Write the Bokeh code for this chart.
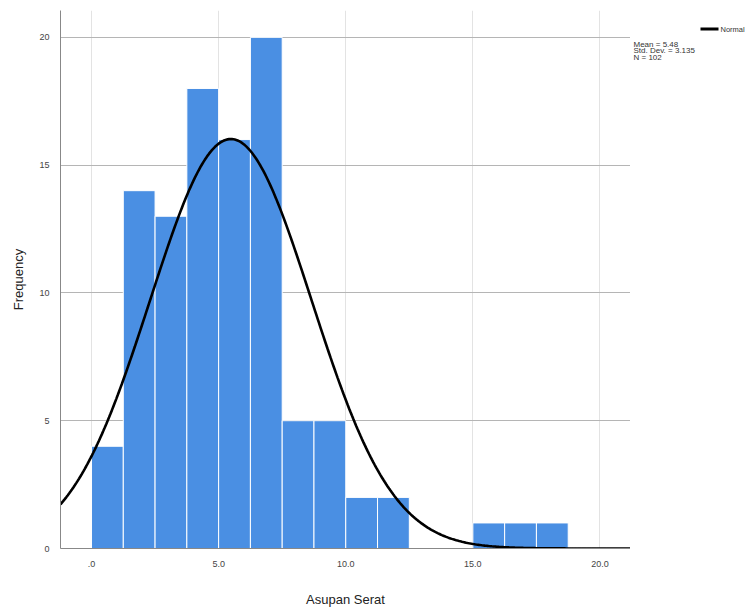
import numpy as np
from bokeh.plotting import figure
from bokeh.layouts import row
from bokeh.models import Range1d, FixedTicker, ColumnDataSource
from bokeh.core.properties import value
from bokeh.embed import file_html
from bokeh.resources import INLINE

# Histogram data (bin width 1.25, starting at 0)
bin_edges = [0.0, 1.25, 2.5, 3.75, 5.0, 6.25, 7.5, 8.75, 10.0, 11.25, 12.5,
             13.75, 15.0, 16.25, 17.5, 18.75, 20.0]
counts = [4, 14, 13, 18, 16, 20, 5, 5, 2, 2, 0, 0, 1, 1, 1, 0]
mean_val = 5.48
sd_val = 3.175
n_val = 102
x_ticks = [0, 5, 10, 15, 20]
x_tick_labels = [".0", "5.0", "10.0", "15.0", "20.0"]
y_ticks = [0, 5, 10, 15, 20]
legend_label = "Normal"
stats_lines = [f"Mean = {mean_val}", "Std. Dev. = 3.135", f"N = {n_val}"]

FONT = "Liberation Sans"
H = 609

p = figure(width=630, height=H, output_backend="svg", toolbar_location=None,
           x_range=Range1d(-1.22, 21.2), y_range=Range1d(0, 21.05),
           min_border_left=60, min_border_right=0, min_border_top=10, min_border_bottom=60)
p.outline_line_color = None
p.background_fill_color = "white"

# bars
src = ColumnDataSource(dict(left=bin_edges[:-1], right=bin_edges[1:], top=counts,
                            bottom=[0] * len(counts)))
p.quad(left="left", right="right", top="top", bottom="bottom", source=src,
       fill_color="#4a8fe3", line_color="white", line_width=1)

# normal curve from mean / sd
bw = bin_edges[1] - bin_edges[0]
xs = np.linspace(-1.22, 21.2, 400)
ys = n_val * bw / (sd_val * np.sqrt(2 * np.pi)) * np.exp(-0.5 * ((xs - mean_val) / sd_val) ** 2)
p.line(xs, ys, line_color="black", line_width=2.6)

# axes
p.xaxis.ticker = FixedTicker(ticks=x_ticks)
p.xaxis.major_label_overrides = {t: l for t, l in zip(x_ticks, x_tick_labels)}
p.yaxis.ticker = FixedTicker(ticks=y_ticks)
for ax in (p.xaxis, p.yaxis):
    ax.axis_line_color = "#888888"
    ax.major_tick_line_color = None
    ax.minor_tick_line_color = None
    ax.major_label_text_font = FONT
    ax.major_label_text_font_size = "9px"
    ax.major_label_text_color = "#444444"
    ax.axis_label_text_font = FONT
    ax.axis_label_text_font_style = "normal"
    ax.axis_label_text_font_size = "13px"
    ax.axis_label_text_color = "#222222"
p.xaxis.axis_label = "Asupan Serat"
p.yaxis.axis_label = "Frequency"
p.xaxis.major_label_standoff = 6
p.yaxis.major_label_standoff = 5
p.xaxis.axis_label_standoff = 22
p.yaxis.axis_label_standoff = 10

p.xgrid.grid_line_color = "#e3e3e3"
p.ygrid.grid_line_color = "#b5b5b5"
p.xgrid.ticker = FixedTicker(ticks=x_ticks)
p.ygrid.ticker = FixedTicker(ticks=y_ticks)

# side panel with the legend and statistics (pixel coordinates, y from top)
W2 = 121
q = figure(width=W2, height=H, output_backend="svg", toolbar_location=None,
           x_range=Range1d(0, W2), y_range=Range1d(H, 0),
           x_axis_type=None, y_axis_type=None,
           min_border_left=0, min_border_right=0, min_border_top=0, min_border_bottom=0)
q.outline_line_color = None
q.grid.visible = False
q.segment(x0=[70], y0=[21], x1=[88], y1=[21], line_color="black", line_width=3)
q.text(x=[90], y=[21], text=[legend_label], text_font=value(FONT), text_font_size="7.5px",
       text_color="#333333", text_baseline="middle")
q.text(x=[3, 3, 3], y=[38, 45.5, 53], text=stats_lines, text_font=value(FONT),
       text_font_size="8px", text_color="#333333", text_baseline="middle")

layout = row(p, q, spacing=0)
open("out.html", "w").write(file_html(layout, INLINE))
